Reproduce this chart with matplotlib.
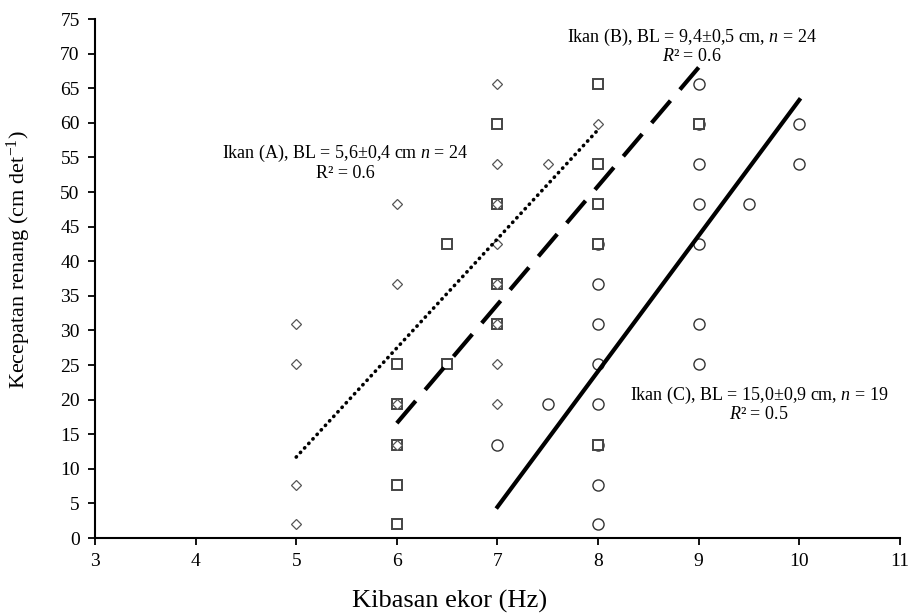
import matplotlib
matplotlib.use("Agg")
import matplotlib.pyplot as plt

plt.rcParams['font.family'] = ['Liberation Serif', 'DejaVu Serif']
plt.rcParams['mathtext.fontset'] = 'custom'
plt.rcParams['mathtext.rm'] = 'Liberation Serif'
plt.rcParams['mathtext.it'] = 'Liberation Serif:italic'

# Ikan (A) - diamonds
ax_x = [5, 5, 5, 5, 6, 6, 6, 6, 7, 7, 7, 7, 7, 7, 7, 7, 7.5, 8]
ax_y = [2.0, 7.7, 25.1, 30.9, 13.5, 19.3, 36.7, 48.2,
        19.3, 25.1, 30.9, 36.7, 42.5, 48.2, 54.0, 65.6, 54.0, 59.8]
# Ikan (B) - squares
bx_x = [6, 6, 6, 6, 6, 6.5, 6.5, 7, 7, 7, 7, 8, 8, 8, 8, 8, 9]
bx_y = [2.0, 7.7, 13.5, 19.3, 25.1, 25.1, 42.5, 30.9, 36.7, 48.2, 59.8,
        13.5, 42.5, 48.2, 54.0, 65.6, 59.8]
# Ikan (C) - circles
cx_x = [7, 7.5, 8, 8, 8, 8, 8, 8, 8, 8, 9, 9, 9, 9, 9, 9, 9, 9.5, 10, 10]
cx_y = [13.5, 19.3, 2.0, 7.7, 13.5, 19.3, 25.1, 30.9, 36.7, 42.5,
        25.1, 30.9, 42.5, 48.2, 54.0, 59.8, 65.6, 48.2, 54.0, 59.8]

# regression lines (endpoints)
fit_a_x = [5, 8]
fit_a_y = [11.7, 59.0]
fit_b_x = [6, 9]
fit_b_y = [16.6, 68.0]
fit_c_x = [7, 10]
fit_c_y = [4.5, 63.3]

fig = plt.figure(figsize=(9.09, 6.13), dpi=100)
ax = fig.add_axes([0.1045, 0.1223, 0.8855, 0.8467])

ax.plot(cx_x, cx_y, 'o', ms=8, mfc='white', mec='#333333', mew=1.0, ls='none', zorder=3)
ax.plot(bx_x, bx_y, 's', ms=7.5, mfc='white', mec='#444444', mew=1.4, ls='none', zorder=4)
ax.plot(ax_x, ax_y, 'D', ms=5, mfc='white', mec='#555555', mew=0.9, ls='none', zorder=5)

ax.plot(fit_a_x, fit_a_y, color='black', lw=2.6, ls=(0, (0.1, 1.6)),
        dash_capstyle='round', zorder=6)
ax.plot(fit_b_x, fit_b_y, color='black', lw=3, ls=(0, (7, 3.5)), zorder=6)
ax.plot(fit_c_x, fit_c_y, color='black', lw=3, zorder=6)

ax.text(5.49, 54.3, "Ikan (A), BL = 5,6±0,4 cm $n$ = 24\nR² = 0.6",
        ha='center', va='center', fontsize=13, linespacing=1.05)
ax.text(8.93, 71.1, "Ikan (B), BL = 9,4±0,5 cm, $n$ = 24\n$R$² = 0.6",
        ha='center', va='center', fontsize=13, linespacing=1.05)
ax.text(9.6, 19.4, "Ikan (C), BL = 15,0±0,9 cm, $n$ = 19\n$R$² = 0.5",
        ha='center', va='center', fontsize=13, linespacing=1.05)

ax.set_xlim(3, 11)
ax.set_ylim(0, 75)
ax.set_xticks(range(3, 12))
ax.set_yticks(range(0, 76, 5))
ax.tick_params(direction='out', length=5, width=1.3, labelsize=14, pad=6)
for s in ['top', 'right']:
    ax.spines[s].set_visible(False)
for s in ['left', 'bottom']:
    ax.spines[s].set_linewidth(1.5)

ax.set_xlabel("Kibasan ekor (Hz)", fontsize=19)
ax.set_ylabel("Kecepatan renang (cm det$^{-1}$)", fontsize=16)
ax.xaxis.set_label_coords(0.441, -0.1)
ax.yaxis.set_label_coords(-0.077, 0.537)

fig.savefig("out.png", dpi=100)
